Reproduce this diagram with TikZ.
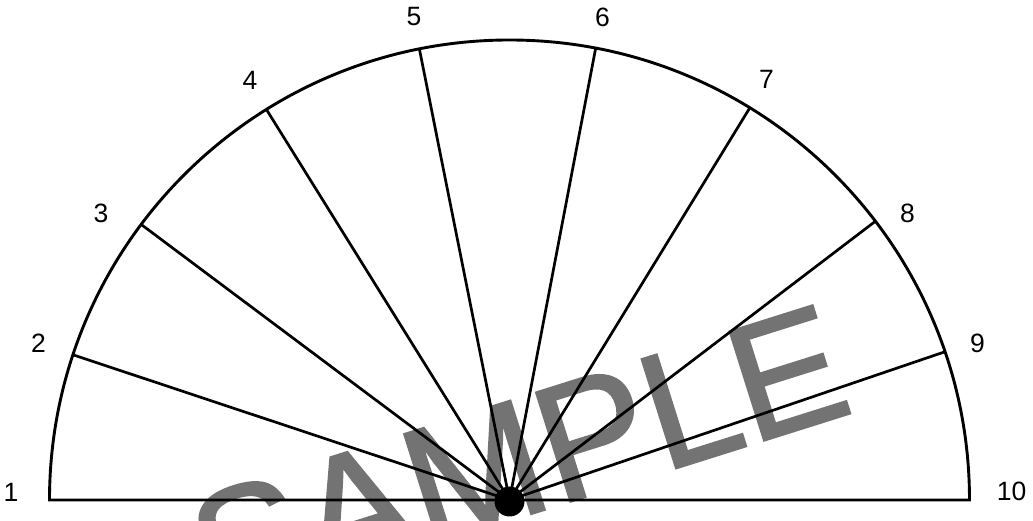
\documentclass[tikz,border=0pt]{standalone}
\usepackage{fontspec}
\setmainfont{Liberation Sans}
\newfontfamily\stampfont[FakeBold=1.4]{Liberation Sans}
\definecolor{stampgray}{RGB}{115,115,115}

\begin{document}
\begin{tikzpicture}[x=1pt, y=1pt,
    rim/.style={line width=2.9pt, line join=miter},
    spoke/.style={line width=2.7pt},
    hub/.style={circle, fill=black, inner sep=0pt, minimum size=30pt},
    tick/.style={font=\fontsize{26.5}{30}\selectfont, inner sep=0pt},
    stamp/.style={font=\stampfont\fontsize{166}{166}\selectfont, text=stampgray, inner sep=0pt, rotate=17.5}]
    \useasboundingbox (-509.5,-21) rectangle (523.5,500);

    % Watermark, under the lines
    \node[stamp] (sample) at (9,42) {SAMPLE};

    % Half disc: base line and rim
    \coordinate (o) at (0,0);
    \foreach \i/\a in {1/180, 2/161.6, 3/143.2, 4/121.9, 5/101.3, 6/79.2, 7/58.5, 8/37.3, 9/18.8, 10/0}
        \coordinate (p\i) at (\a:460);
    \draw[rim] (p1) -- (p10) arc[start angle=0, end angle=180, radius=460] -- cycle;

    % Spokes from the hub
    \foreach \i in {2,...,9}
        \draw[spoke] (o) -- (p\i);
    \node[hub] (hub) at (0,-1.5) {};

    % Numbers round the rim
    \foreach \i/\x/\y in {1/-498.5/7.5, 2/-471/156.5, 3/-408.5/286.5, 4/-259.5/420, 5/-95.5/483,
                          6/93/483, 7/257/421, 8/398/287, 9/468/157, 10/502/8.5}
        \node[tick] (n\i) at (\x,\y) {\i};
\end{tikzpicture}
\end{document}
